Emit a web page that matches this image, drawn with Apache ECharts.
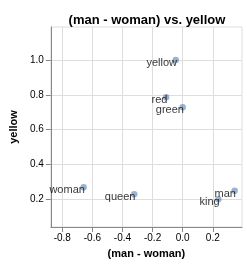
<!DOCTYPE html>
<html><head><meta charset="utf-8">
<script src="https://cdn.jsdelivr.net/npm/echarts@6/dist/echarts.min.js"></script>
<style>html,body{margin:0;padding:0;background:#fff}#c{width:247px;height:264px}</style>
</head><body><div id="c"></div>
<script>
var words = ['yellow','red','green','woman','queen','man','king'];
var manMinusWoman = [-0.046, -0.11, 0.0, -0.658, -0.322, 0.345, 0.237];
var yellowSim = [1.0, 0.786, 0.729, 0.269, 0.229, 0.249, 0.2];
var xTicks = [-0.8, -0.6, -0.4, -0.2, 0.0, 0.2];
var yTicks = [0.2, 0.4, 0.6, 0.8, 1.0];
var xDomain = [-0.876, 0.394];
var yDomain = [0.04, 1.19];

var FONT = '"Liberation Sans", Arial, sans-serif';
var chart = echarts.init(document.getElementById('c'), null, {renderer: 'canvas'});
var data = words.map(function(w, i){ return [manMinusWoman[i], yellowSim[i], w]; });
chart.setOption({
  animation: false,
  title: {
    text: '(man - woman) vs. yellow',
    left: 142, top: 9, textAlign: 'center',
    textStyle: {fontFamily: FONT, fontSize: 13, fontWeight: 'bold', color: '#000'}
  },
  grid: {left: 42, right: 5, top: 27, bottom: 37, show: true, borderColor: '#ddd', borderWidth: 1},
  xAxis: {
    type: 'value', min: xDomain[0], max: xDomain[1],
    name: '(man - woman)', nameLocation: 'middle', nameGap: 21,
    nameTextStyle: {fontFamily: FONT, fontSize: 11, fontWeight: 'bold', color: '#000'},
    axisLine: {onZero: false, lineStyle: {color: '#888'}},
    axisTick: {show: true, length: 5, lineStyle: {color: '#888'}, customValues: xTicks},
    axisLabel: {customValues: xTicks, margin: 6, fontFamily: FONT, fontSize: 10, color: '#000',
      formatter: function(v){ return v.toFixed(1); }},
    splitLine: {show: true, lineStyle: {color: '#ddd'}}
  },
  yAxis: {
    type: 'value', min: yDomain[0], max: yDomain[1],
    name: 'yellow', nameLocation: 'middle', nameGap: 24,
    nameTextStyle: {fontFamily: FONT, fontSize: 11, fontWeight: 'bold', color: '#000'},
    axisLine: {show: true, onZero: false, lineStyle: {color: '#888'}},
    axisTick: {show: true, length: 5, lineStyle: {color: '#888'}, customValues: yTicks},
    axisLabel: {customValues: yTicks, margin: 7, fontFamily: FONT, fontSize: 10, color: '#000',
      formatter: function(v){ return v.toFixed(1); }},
    splitLine: {show: true, lineStyle: {color: '#ddd'}}
  },
  series: [{
    type: 'scatter', data: data, symbolSize: 6.5,
    itemStyle: {color: 'rgba(76,120,168,0.7)'},
    label: {show: true, position: 'left', distance: -4.5, offset: [0, 3],
      formatter: function(p){ return p.data[2]; },
      fontFamily: FONT, fontSize: 11, color: '#000'},
    z: 3
  }]
});
</script></body></html>
